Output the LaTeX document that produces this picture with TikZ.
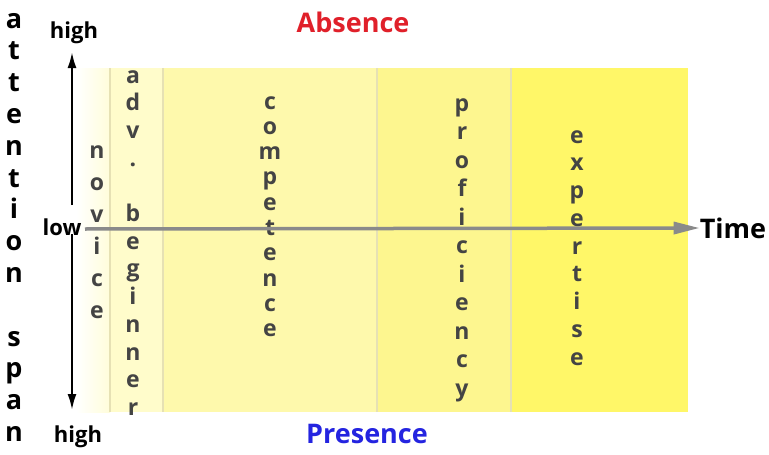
\documentclass[tikz,border=0pt]{standalone}
\usepackage{fontspec}
\setmainfont{Open Sans}
\usetikzlibrary{arrows.meta}
\definecolor{cnov}{HTML}{FFFDDA}
\definecolor{cadv}{HTML}{FFFCCB}
\definecolor{ccom}{HTML}{FEF9AC}
\definecolor{cpro}{HTML}{FDF68F}
\definecolor{cexp}{HTML}{FFF768}
\definecolor{csep}{HTML}{E6E1B4}
\definecolor{cletter}{HTML}{444444}
\definecolor{caxis}{HTML}{8A8A8A}
\definecolor{cred}{HTML}{E0202A}
\definecolor{cblue}{HTML}{2424E0}
\tikzset{
  bandletter/.style={anchor=base, inner sep=0pt, text=cletter, font=\bfseries\fontsize{23}{23}\selectfont},
  sideletter/.style={anchor=base, inner sep=0pt, text=black, font=\bfseries\fontsize{27}{27}\selectfont},
  axislabel/.style={inner sep=0pt, text=black, font=\bfseries\fontsize{22}{22}\selectfont},
  sep/.style={draw=csep, line width=1.5pt},
}
\newcommand{\vword}[6]{% style, name, x, y0, step, letters
  \foreach \l [count=\i from 0] in {#6} {
    \node[#1] (#2-\i) at (#3, #4+\i*#5+8) {\l};
  }
}
\begin{document}
\begin{tikzpicture}[x=1pt,y=-1pt]
\useasboundingbox (0,0) rectangle (769,455);
% bands
\shade[left color=white, right color=cnov] (76,68) rectangle (110,412);
\fill[cadv] (110,68) rectangle (163,412);
\fill[ccom] (163,68) rectangle (377,412);
\fill[cpro] (377,68) rectangle (511,412);
\fill[cexp] (511,68) rectangle (688,412);
\draw[sep] (110,68) -- (110,412);
\draw[sep] (163,68) -- (163,412);
\draw[sep] (377,68) -- (377,412);
\draw[sep] (511,68) -- (511,412);
% band words
\vword{bandletter}{nov}{97}{150}{32}{n,o,v,i,c,e}
\vword{bandletter}{adv}{133}{75}{27.7}{a,d,v,.,{},b,e,g,i,n,n,e,r}
\vword{bandletter}{com}{270}{101}{25.3}{c,o,m,p,e,t,e,n,c,e}
\vword{bandletter}{pro}{462}{103}{28.5}{p,r,o,f,i,c,i,e,n,c,y}
\vword{bandletter}{exp}{577}{135}{27.75}{e,x,p,e,r,t,i,s,e}
% side word
\vword{sideletter}{att}{14}{20}{31.8}{a,t,t,e,n,t,i,o,n,{},s,p,a,n}
% labels
\node[axislabel] (hightop) at (74,33) {high};
\node[axislabel] (highbot) at (78,437) {high};
\node[axislabel] (low) at (62,227) {low};
\node[inner sep=0pt, font=\bfseries\fontsize{27}{27}\selectfont] (time) at (733,228) {Time};
\node[inner sep=0pt, text=cred, font=\bfseries\fontsize{27}{27}\selectfont] (absence) at (353,22) {Absence};
\node[inner sep=0pt, text=cblue, font=\bfseries\fontsize{27}{27}\selectfont] (presence) at (367,434) {Presence};
% axes
\coordinate (vtop) at (72,52);
\coordinate (vbot) at (72,410);
\coordinate (vup) at (72,205);
\coordinate (vdown) at (72,234);
\draw[line width=2.2pt, -{Latex[length=16pt,width=9pt]}] (vup) -- (vtop);
\draw[line width=2.2pt, -{Latex[length=16pt,width=9pt]}] (vdown) -- (vbot);
\coordinate (hstart) at (85,229);
\draw[caxis, line width=3.5pt, -{Triangle[length=26pt,width=12pt]}] (hstart) -- (time.west);
\end{tikzpicture}
\end{document}
